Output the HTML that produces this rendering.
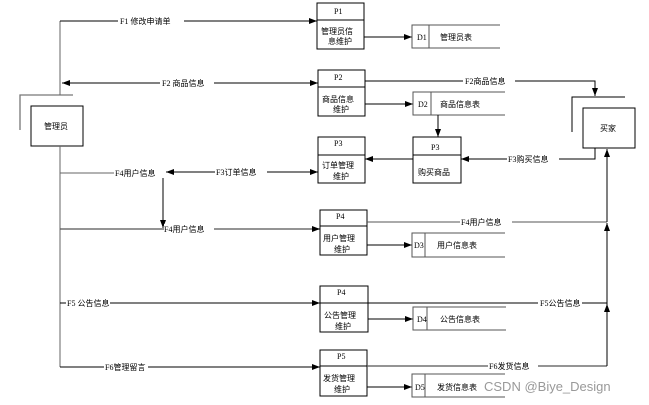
<!DOCTYPE html>
<html><head><meta charset="utf-8"><style>
html,body{margin:0;padding:0;background:#fff;width:649px;height:405px;overflow:hidden}
text{font-family:"Liberation Serif","Noto Sans CJK SC",serif;font-size:8px;fill:#000}
</style></head><body>
<svg width="649" height="405" viewBox="0 0 649 405" xmlns="http://www.w3.org/2000/svg">
<defs><marker id="a" markerWidth="8" markerHeight="6" refX="8" refY="3" orient="auto" markerUnits="userSpaceOnUse"><path d="M0,0 L8,3 L0,6 z" fill="#000"/></marker></defs>
<g stroke="#000" stroke-width="1" fill="none">
<path d="M20,130 V95 H73" stroke="#777" stroke-width="1.3"/>
<rect x="31" y="106" width="52" height="40" fill="#fff"/>
<path d="M60,95 V21" stroke="#666"/>
<path d="M60,146 V367" stroke="#666"/>
<path d="M60,21 H317" marker-end="url(#a)"/>
<rect x="317" y="3" width="47" height="46" fill="#fff"/><path d="M317,20 H364"/>
<path d="M364,37 H412" marker-end="url(#a)"/>
<path d="M500,25 H412 V48 H500 M429,25 V48" stroke="#555"/>
<path d="M160,83 H62" marker-end="url(#a)"/>
<path d="M160,83 H318" marker-end="url(#a)"/>
<rect x="318" y="70" width="47" height="46" fill="#fff"/><path d="M318,87 H365"/>
<path d="M365,81 H595 V96" marker-end="url(#a)"/>
<path d="M365,104 H413" marker-end="url(#a)"/>
<path d="M505,92 H413 V115 H505 M431,92 V115" stroke="#555"/>
<path d="M438,115 V137" marker-end="url(#a)"/>
<rect x="413" y="137" width="48" height="46" fill="#fff"/><path d="M413,155 H461"/>
<path d="M572,132 V97 H625" stroke="#000"/>
<rect x="583" y="108" width="52" height="40" fill="#fff"/>
<path d="M595,148 V159 H461" marker-end="url(#a)"/>
<path d="M413,159 H365" marker-end="url(#a)"/>
<rect x="318" y="137" width="47" height="46" fill="#fff"/><path d="M318,155 H365"/>
<path d="M60,173 H165" stroke="#666"/>
<path d="M240,172 H166" marker-end="url(#a)"/>
<path d="M240,172 H318" marker-end="url(#a)"/>
<path d="M163,173 V228" marker-end="url(#a)"/>
<path d="M60,229 H320" stroke="#555" stroke-width="1.3" marker-end="url(#a)"/>
<rect x="320" y="210" width="47" height="45" fill="#fff"/><path d="M320,226 H367"/>
<path d="M367,222 H607" stroke="#555"/>
<path d="M367,245 H412" marker-end="url(#a)"/>
<path d="M505,233 H412 V257 H505 M425,233 V257" stroke="#555"/>
<path d="M60,303 H320" marker-end="url(#a)"/>
<rect x="320" y="286" width="48" height="46" fill="#fff"/><path d="M320,303 H368"/>
<path d="M368,303 H607"/>
<path d="M368,319 H413" marker-end="url(#a)"/>
<path d="M506,307 H413 V330 H506 M427,307 V330" stroke="#555"/>
<path d="M60,367 H320" marker-end="url(#a)"/>
<rect x="320" y="350" width="47" height="46" fill="#fff"/><path d="M320,366 H367"/>
<path d="M367,366 H607" stroke="#555" stroke-width="1.3"/>
<path d="M367,387 H412" marker-end="url(#a)"/>
<path d="M505,374 H412 V397 H505 M425,374 V397" stroke="#555"/>
<path d="M607,366 V304" marker-end="url(#a)"/>
<path d="M607,304 V223" marker-end="url(#a)"/>
<path d="M607,222 V149" marker-end="url(#a)"/>
</g>
<g>
<rect x="118" y="16" width="66" height="10" fill="#fff"/><text x="120" y="24">F1 修改申请单</text>
<rect x="160" y="78" width="54" height="10" fill="#fff"/><text x="162" y="86">F2 商品信息</text>
<rect x="463" y="76" width="52" height="10" fill="#fff"/><text x="465" y="84">F2商品信息</text>
<rect x="507" y="154" width="52" height="10" fill="#fff"/><text x="508" y="162">F3购买信息</text>
<rect x="215" y="167" width="52" height="10" fill="#fff"/><text x="216" y="175">F3订单信息</text>
<rect x="114" y="168" width="52" height="10" fill="#fff"/><text x="115" y="176">F4用户信息</text>
<rect x="164" y="224" width="50" height="10" fill="#fff"/><text x="164" y="232">F4用户信息</text>
<rect x="460" y="217" width="52" height="10" fill="#fff"/><text x="461" y="225">F4用户信息</text>
<rect x="66" y="298" width="44" height="10" fill="#fff"/><text x="67" y="306">F5 公告信息</text>
<rect x="538" y="298" width="44" height="10" fill="#fff"/><text x="540" y="306">F5公告信息</text>
<rect x="104" y="362" width="44" height="10" fill="#fff"/><text x="105" y="370">F6管理留言</text>
<rect x="488" y="361" width="50" height="10" fill="#fff"/><text x="489" y="369">F6发货信息</text>
<text x="44" y="129">管理员</text>
<text x="600" y="131">买家</text>
<text x="334" y="14">P1</text><text x="321" y="34">管理员信</text><text x="328" y="44">息维护</text>
<text x="417" y="40">D1</text><text x="440" y="40">管理员表</text>
<text x="334" y="80">P2</text><text x="322" y="102">商品信息</text><text x="333" y="112">维护</text>
<text x="418" y="107">D2</text><text x="440" y="107">商品信息表</text>
<text x="431" y="150">P3</text><text x="418" y="175">购买商品</text>
<text x="334" y="146">P3</text><text x="322" y="168">订单管理</text><text x="333" y="179">维护</text>
<text x="336" y="219">P4</text><text x="323" y="241">用户管理</text><text x="334" y="252">维护</text>
<text x="414" y="248">D3</text><text x="437" y="248">用户信息表</text>
<text x="337" y="295">P4</text><text x="324" y="318">公告管理</text><text x="335" y="329">维护</text>
<text x="417" y="322">D4</text><text x="440" y="322">公告信息表</text>
<text x="337" y="359">P5</text><text x="323" y="381">发货管理</text><text x="334" y="392">维护</text>
<text x="415" y="390">D5</text><text x="437" y="390">发货信息表</text>
<text x="484" y="391" style="font-family:'Liberation Sans','Noto Sans CJK SC',sans-serif;font-size:13px;fill:#999">CSDN @Biye_Design</text>
</g>
</svg>
</body></html>
